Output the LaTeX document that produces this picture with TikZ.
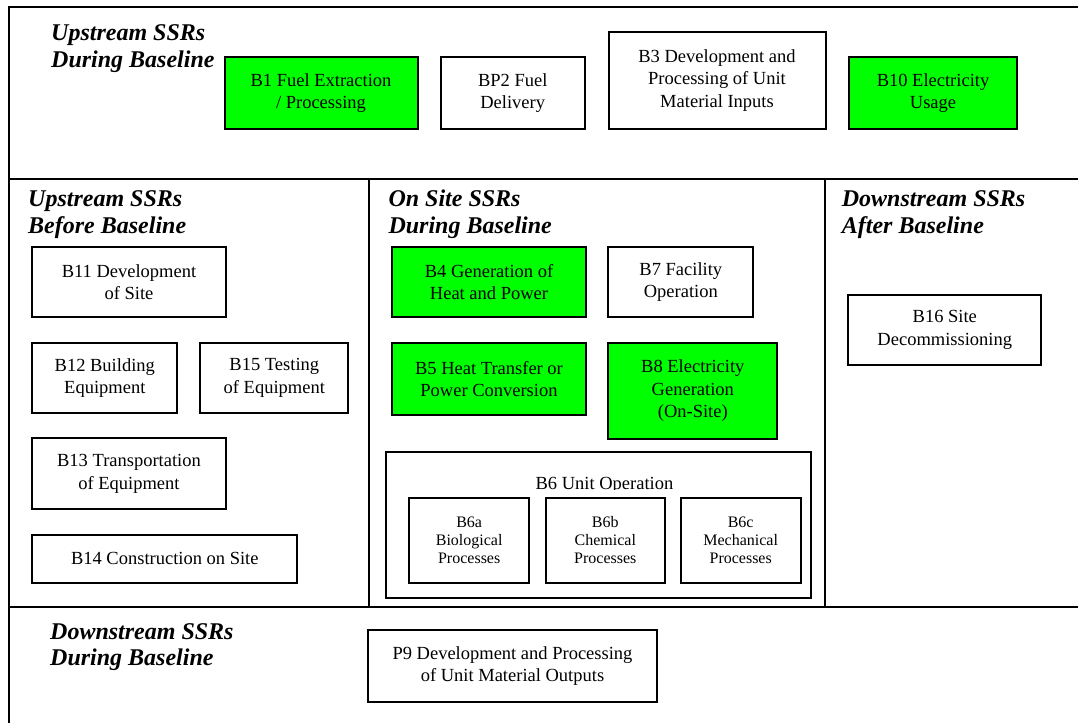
\documentclass[tikz,border=0pt]{standalone}
\usepackage{fontspec}
\setmainfont{Liberation Serif}
\definecolor{bgreen}{RGB}{0,255,0}
\begin{document}
\begin{tikzpicture}[x=1pt,y=-1pt,
  frame/.style={line width=2pt},
  box/.style={draw, line width=2pt, align=center, inner sep=0pt, font=\fontsize{18.5}{22.4}\selectfont},
  gbox/.style={box, fill=bgreen},
  sbox/.style={draw, line width=2pt, align=center, inner sep=0pt, font=\fontsize{16}{18.3}\selectfont},
  ttl/.style={anchor=base west, align=left, inner sep=0pt, font=\fontsize{24}{26.6}\selectfont\bfseries\itshape},
  lbl/.style={anchor=base, inner sep=0pt, font=\fontsize{18.5}{22.4}\selectfont},
]
\useasboundingbox (0,0) rectangle (1078,723);
\fill[white] (0,0) rectangle (1078,723);

% frame
\draw[frame] (1078,6.8) -- (8.5,6.8) -- (8.5,723);
\draw[frame] (8.5,179) -- (1078,179);
\draw[frame] (8.5,607) -- (1078,607);
\draw[frame] (368.5,179) -- (368.5,607);
\draw[frame] (825,179) -- (825,607);

% titles (anchor = baseline of the last line)
\node[ttl] (t1) at (51,67) {Upstream SSRs\\During Baseline};
\node[ttl] (t2) at (28,233) {Upstream SSRs\\Before Baseline};
\node[ttl] (t3) at (388.3,233) {On Site SSRs\\During Baseline};
\node[ttl] (t4) at (841.7,233.5) {Downstream SSRs\\After Baseline};
\node[ttl] (t5) at (50,665.7) {Downstream SSRs\\During Baseline};

% top row
\node[gbox, minimum width=193pt, minimum height=72.3pt] (b1) at (321,92.9) {B1 Fuel Extraction\\/ Processing};
\node[box, minimum width=143.8pt, minimum height=72.3pt] (bp2) at (512.7,92.9) {BP2 Fuel\\Delivery};
\node[box, minimum width=217pt, minimum height=97.4pt] (b3) at (717,80.3) {B3 Development and\\Processing of Unit\\Material Inputs};
\node[gbox, minimum width=168pt, minimum height=72.3pt] (b10) at (933,92.9) {B10 Electricity\\Usage};

% left column
\node[box, minimum width=193.4pt, minimum height=70.6pt] (b11) at (129,282) {B11 Development\\of Site};
\node[box, minimum width=145pt, minimum height=70.6pt] (b12) at (104.8,378) {B12 Building\\Equipment};
\node[box, minimum width=148pt, minimum height=70.6pt] (b15) at (274.3,378) {B15 Testing\\of Equipment};
\node[box, minimum width=193.4pt, minimum height=70.7pt] (b13) at (129,473.7) {B13 Transportation\\of Equipment};
\node[box, minimum width=265pt, minimum height=47.7pt] (b14) at (164.8,558.8) {B14 Construction on Site};

% center column
\node[gbox, minimum width=193.4pt, minimum height=70.6pt] (b4) at (489,282) {B4 Generation of\\Heat and Power};
\node[box, minimum width=145pt, minimum height=70.6pt] (b7) at (680.8,282) {B7 Facility\\Operation};
\node[gbox, minimum width=193.4pt, minimum height=72.3pt] (b5) at (489,378.8) {B5 Heat Transfer or\\Power Conversion};
\node[gbox, minimum width=169pt, minimum height=96pt] (b8) at (692.8,390.7) {B8 Electricity\\Generation\\(On-Site)};
\node[draw, line width=2pt, minimum width=425pt, minimum height=146pt, inner sep=0pt] (b6) at (598.5,524.7) {};
\begin{scope}
\clip (386,452) rectangle (811,489);
\node[lbl] (b6lab) at (604.5,489) {B6 Unit Operation};
\end{scope}
\node[sbox, minimum width=119.7pt, minimum height=85pt] (b6a) at (469.2,540.2) {B6a\\Biological\\Processes};
\node[sbox, minimum width=119.3pt, minimum height=85pt] (b6b) at (605.3,540.2) {B6b\\Chemical\\Processes};
\node[sbox, minimum width=120pt, minimum height=85pt] (b6c) at (740.7,540.2) {B6c\\Mechanical\\Processes};

% right column
\node[box, minimum width=193pt, minimum height=70pt] (b16) at (944.8,330) {B16 Site\\Decommissioning};

% bottom row
\node[box, minimum width=288.4pt, minimum height=72pt] (p9) at (512.5,666) {P9 Development and Processing\\of Unit Material Outputs};
\end{tikzpicture}
\end{document}
